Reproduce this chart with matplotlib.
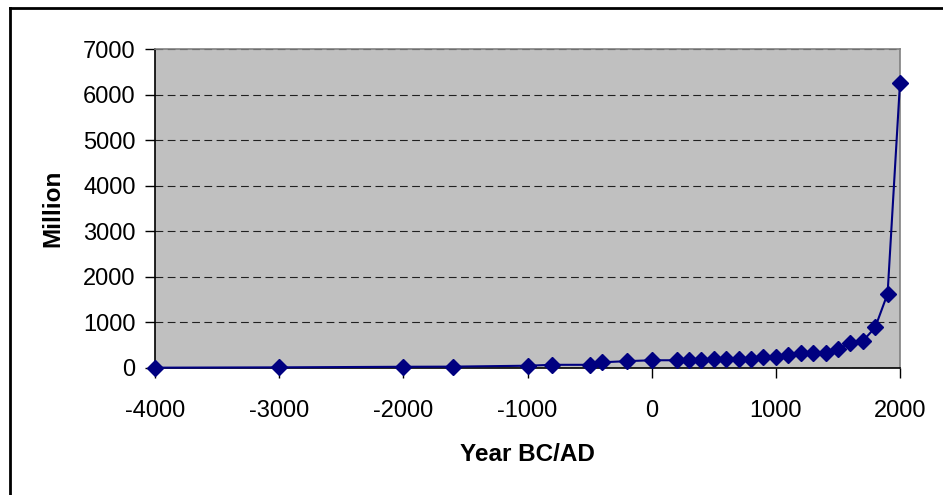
import matplotlib.pyplot as plt
from matplotlib.lines import Line2D

plt.rcParams["font.family"] = ["Liberation Sans", "DejaVu Sans"]
plt.rcParams["axes.unicode_minus"] = False

# year (BC negative) and world population in millions
years = [-4000, -3000, -2000, -1600, -1000, -800, -500, -400, -200, 0,
         200, 300, 400, 500, 600, 700, 800, 900, 1000, 1100,
         1200, 1300, 1400, 1500, 1600, 1700, 1800, 1900, 2000]
population = [7, 14, 27, 30, 50, 70, 70, 125, 150, 170,
              170, 170, 170, 200, 200, 200, 200, 240, 250, 280,
              330, 330, 330, 415, 550, 590, 890, 1630, 6260]

x_ticks = [-4000, -3000, -2000, -1000, 0, 1000, 2000]
y_ticks = [0, 1000, 2000, 3000, 4000, 5000, 6000, 7000]

fig = plt.figure(figsize=(9.43, 4.95), dpi=100)
ax = fig.add_axes([155 / 943, 1 - 368 / 495, 745 / 943, 319 / 495])

ax.set_facecolor("#C0C0C0")
ax.plot(years, population, color="#000080", linewidth=1.5, marker="D",
        markersize=8.5, markerfacecolor="#000080", markeredgecolor="#000080",
        clip_on=False, zorder=3)

ax.set_xlim(-4000, 2000)
ax.set_ylim(0, 7000)
ax.set_xticks(x_ticks)
ax.set_yticks(y_ticks)
ax.yaxis.grid(True, color="#202020", linestyle=(0, (7, 4)), linewidth=0.8)
ax.set_axisbelow(True)

for side in ["top", "right"]:
    ax.spines[side].set_color("#808080")
    ax.spines[side].set_linewidth(1.2)
for side in ["left", "bottom"]:
    ax.spines[side].set_color("black")
    ax.spines[side].set_linewidth(1.2)

ax.tick_params(axis="both", direction="out", length=7, width=1,
               labelsize=17)
ax.tick_params(axis="x", pad=16)
ax.tick_params(axis="y", pad=7)

ax.set_xlabel("Year BC/AD", fontsize=17.5, fontweight="bold", labelpad=15)
ax.set_ylabel("Million", fontsize=17.5, fontweight="bold", labelpad=13)

# chart frame
fig.add_artist(Line2D([10 / 943, 10 / 943], [0, 1 - 8 / 495],
                      transform=fig.transFigure, color="black", linewidth=2))
fig.add_artist(Line2D([10 / 943, 1], [1 - 8 / 495, 1 - 8 / 495],
                      transform=fig.transFigure, color="black", linewidth=2))

fig.savefig("out.png", dpi=100)
